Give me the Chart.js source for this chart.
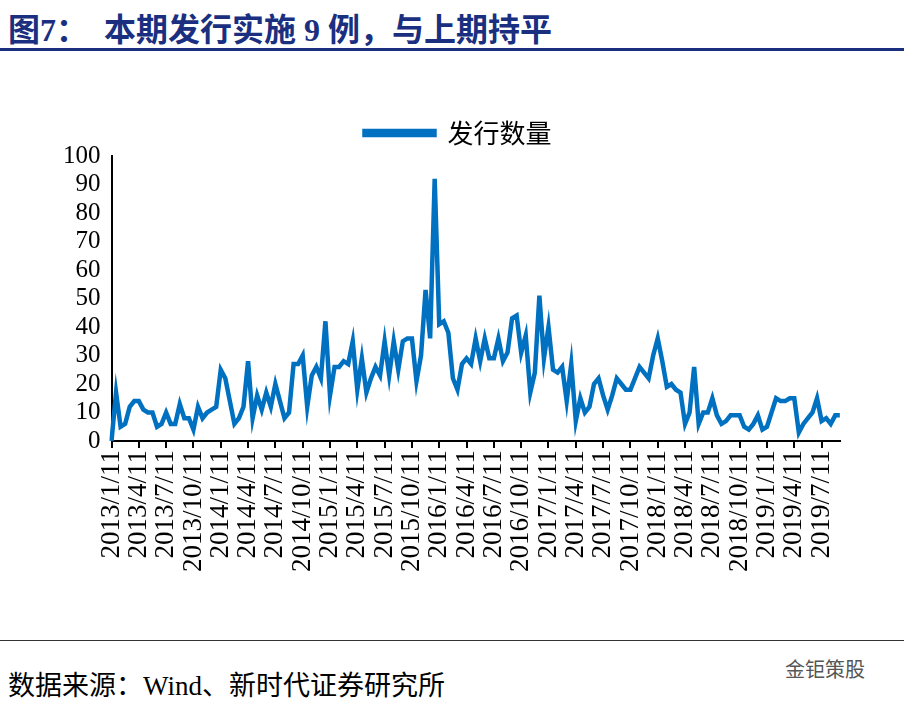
<!DOCTYPE html>
<html><head><meta charset="utf-8">
<script src="https://cdn.jsdelivr.net/npm/chart.js@4"></script>
<style>
body{margin:0;width:904px;height:706px;background:#fff;position:relative;font-family:"Liberation Serif","Noto Sans CJK SC",serif;overflow:hidden}
#title{position:absolute;left:8px;top:4px;font-size:32px;font-weight:bold;color:#1a2f80;font-family:"Liberation Serif","Noto Sans CJK SC",serif}
#tl{position:absolute;left:0;top:48px;width:904px;height:3px;background:#1a2f80}
#bl{position:absolute;left:0;top:640px;width:904px;height:1px;background:#333}
#src{position:absolute;left:8px;top:664px;font-size:27px;color:#000}
#wm{position:absolute;left:785px;top:654px;font-size:20px;color:#555;font-family:"Noto Sans CJK SC"}
#box{position:absolute;left:0;top:98px;width:856px;height:476px}
</style></head><body>
<div id="title">图7：　本期发行实施 9 例，与上期持平</div>
<div id="tl"></div>
<div id="box"><canvas id="c"></canvas></div>
<div id="bl"></div>
<div id="src">数据来源：Wind、新时代证券研究所</div>
<div id="wm">金钜策股</div>
<script>
const quarterLabels = ['2013/1/11','2013/4/11','2013/7/11','2013/10/11','2014/1/11','2014/4/11','2014/7/11','2014/10/11',
  '2015/1/11','2015/4/11','2015/7/11','2015/10/11','2016/1/11','2016/4/11','2016/7/11','2016/10/11',
  '2017/1/11','2017/4/11','2017/7/11','2017/10/11','2018/1/11','2018/4/11','2018/7/11','2018/10/11',
  '2019/1/11','2019/4/11','2019/7/11'];
const issueCount = [0,17,5,6,12,14,14,11,10,10,5,6,10,6,6,13,8,8,4,12,8,10,11,12,25,22,14,6,8,12,28,8,16,11,17,12,20,14,8,10,27,27,30,12,23,26,22,42,16,26,26,28,
  27,35,18,29,17,22,26,23,35,23,35,25,35,36,36,21,
  30,53,36,92,41,42,38,22,18,27,29,27,36,28,36,29,29,36,28,31,43,44,31,37,17,24,51,29,40,25,24,26,14,27,7,15,
  10,12,20,22,16,11,16,22,20,18,18,22,26,24,22,30,36,28,19,20,18,17,6,10,26,6,10,10,15,9,6,7,9,9,9,5,4,6,9,4,5,10,15,14,14,15,15,3,6,8,10,15,7,8,6,9,9];
const labels = issueCount.map((v, i) => i % 6 === 0 && quarterLabels[i / 6] ? quarterLabels[i / 6] : '');
const serif = "'Liberation Serif', serif";

new Chart(document.getElementById('c'), {
  type: 'line',
  data: { labels: labels, datasets: [{ label: '发行数量', data: issueCount, borderColor: '#0070c0', backgroundColor: '#0070c0',
    borderWidth: 4.5, pointRadius: 0, tension: 0 }] },
  options: {
    responsive: true, maintainAspectRatio: false, animation: false,
    layout: { padding: { left: 60, right: 0, top: 0 } },
    plugins: { legend: { labels: { color: '#000', boxWidth: 70, boxHeight: 4, font: { size: 26, family: "'Noto Sans CJK SC'" }, padding: 22 } } },
    scales: {
      x: { offset: false, grid: { display: true, drawOnChartArea: false, color: '#000', tickLength: 7, lineWidth: 2 }, border: { color: '#000', width: 2 },
        ticks: { color: '#000', autoSkip: false, maxRotation: 90, minRotation: 90, padding: 2, font: { size: 27, family: serif },
          callback: v => labels[v] },
        afterBuildTicks: ax => { ax.ticks = ax.ticks.filter(t => labels[t.value] !== ''); } },
      y: { min: 0, max: 100, grid: { display: false }, border: { color: '#000', width: 2 },
        ticks: { stepSize: 10, autoSkip: false, color: '#000', font: { size: 25, family: serif } } }
    }
  }
});
</script></body></html>
